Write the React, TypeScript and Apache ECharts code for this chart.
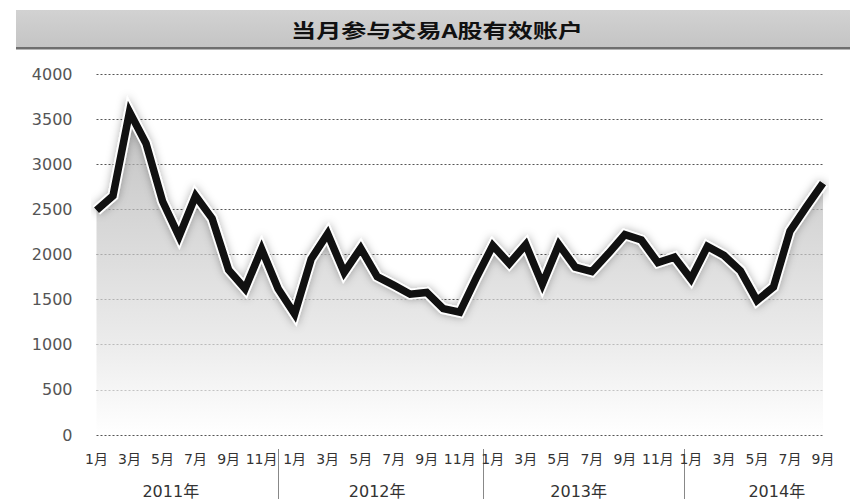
import React, { useEffect, useRef } from "react";
import * as echarts from "echarts";

const years = ["2011年", "2012年", "2013年", "2014年"];
const monthsPerYear = [12, 12, 12, 9];
const values2011 = [2490, 2650, 3580, 3230, 2590, 2200, 2650, 2400, 1830, 1620, 2060, 1620];
const values2012 = [1340, 1950, 2230, 1800, 2070, 1755, 1660, 1560, 1580, 1400, 1360, 1740];
const values2013 = [2100, 1900, 2110, 1670, 2110, 1860, 1810, 2010, 2220, 2160, 1910, 1970];
const values2014 = [1730, 2090, 1990, 1820, 1490, 1640, 2260, 2530, 2790];
const yTicks = [0, 500, 1000, 1500, 2000, 2500, 3000, 3500, 4000];
const titleText = "当月参与交易A股有效账户";

const categories: string[] = [];
monthsPerYear.forEach((n) => {
  for (let m = 1; m <= n; m++) categories.push(m + "月");
});
const values = [...values2011, ...values2012, ...values2013, ...values2014];

export default function App() {
  const ref = useRef<HTMLDivElement>(null);
  useEffect(() => {
    const chart = echarts.init(ref.current!, null, { renderer: "svg" });
    const sepPos = [11, 23.4, 35.6];
    const yearLabelPos = [4.5, 17, 29.2, 41.2];
    const option: any = {
      animation: false,
      backgroundColor: "#ffffff",
      graphic: [
        {
          type: "rect",
          shape: { x: 16, y: 10, width: 834, height: 38 },
          style: {
            fill: new echarts.graphic.LinearGradient(0, 0, 0, 1, [
              { offset: 0, color: "#d2d2d2" },
              { offset: 1, color: "#c4c4c4" },
            ]),
          },
          silent: true,
        },
        {
          type: "rect",
          shape: { x: 16, y: 47, width: 834, height: 2.5 },
          style: { fill: "#6e6e6e" },
          silent: true,
        },
        {
          type: "text",
          x: 437,
          y: 29,
          scaleX: 1.32,
          style: {
            text: titleText,
            fill: "#111",
            font: 'bold 19px "Noto Sans CJK SC", sans-serif',
            align: "center",
            verticalAlign: "middle",
          },
          silent: true,
        },
      ],
      grid: { left: 96.5, right: 27, top: 74, bottom: 61 },
      xAxis: [
        {
          type: "category",
          data: categories,
          boundaryGap: false,
          axisLine: { show: false },
          axisTick: { show: false },
          splitLine: { show: false },
          axisLabel: {
            interval: 1,
            margin: 17,
            fontSize: 14,
            color: "#333",
            fontFamily: '"DejaVu Sans", "Noto Sans CJK SC", sans-serif',
          },
        },
        {
          type: "value",
          min: 0,
          max: categories.length - 1,
          position: "bottom",
          offset: 14,
          axisLine: { show: false },
          splitLine: { show: false },
          axisTick: {
            show: true,
            customValues: sepPos,
            length: 50,
            lineStyle: { color: "#888", width: 1 },
          },
          axisLabel: {
            customValues: yearLabelPos,
            margin: 34,
            fontSize: 16,
            color: "#333",
            fontFamily: '"DejaVu Sans", "Noto Sans CJK SC", sans-serif',
            formatter: (v: number) => {
              let idx = 0;
              let best = Infinity;
              yearLabelPos.forEach((p, i) => {
                if (Math.abs(p - v) < best) {
                  best = Math.abs(p - v);
                  idx = i;
                }
              });
              return years[idx];
            },
          },
        },
      ],
      yAxis: {
        type: "value",
        min: yTicks[0],
        max: yTicks[yTicks.length - 1],
        interval: yTicks[1] - yTicks[0],
        axisLine: { show: false },
        axisTick: { show: false },
        axisLabel: {
          margin: 24,
          fontSize: 16,
          color: "#555",
          fontFamily: '"DejaVu Sans", sans-serif',
          formatter: (v: number) => String(v),
        },
        splitLine: { lineStyle: { type: [2, 2], color: "#555", width: 1 } },
      },
      series: [
        {
          type: "line",
          data: values,
          xAxisIndex: 0,
          symbol: "none",
          showSymbol: false,
          silent: true,
          z: 2,
          lineStyle: {
            color: "#ffffff",
            width: 11,
            join: "miter",
            shadowColor: "rgba(0,0,0,0.3)",
            shadowBlur: 8,
          },
          areaStyle: {
            origin: "start",
            color: new echarts.graphic.LinearGradient(0, 0, 0, 1, [
              { offset: 0, color: "#a8a8a8" },
              { offset: 0.35, color: "#c6c6c6" },
              { offset: 0.7, color: "#e2e2e2" },
              { offset: 1, color: "#ffffff" },
            ]),
          },
        },
        {
          type: "line",
          data: values,
          xAxisIndex: 0,
          symbol: "none",
          showSymbol: false,
          z: 3,
          lineStyle: { color: "#111", width: 7.5, join: "miter" },
        },
      ],
    };
    chart.setOption(option);
    return () => chart.dispose();
  }, []);
  return (
    <div
      ref={ref}
      style={{ position: "fixed", left: 0, top: 0, width: 850, height: 499, background: "#fff" }}
    />
  );
}
